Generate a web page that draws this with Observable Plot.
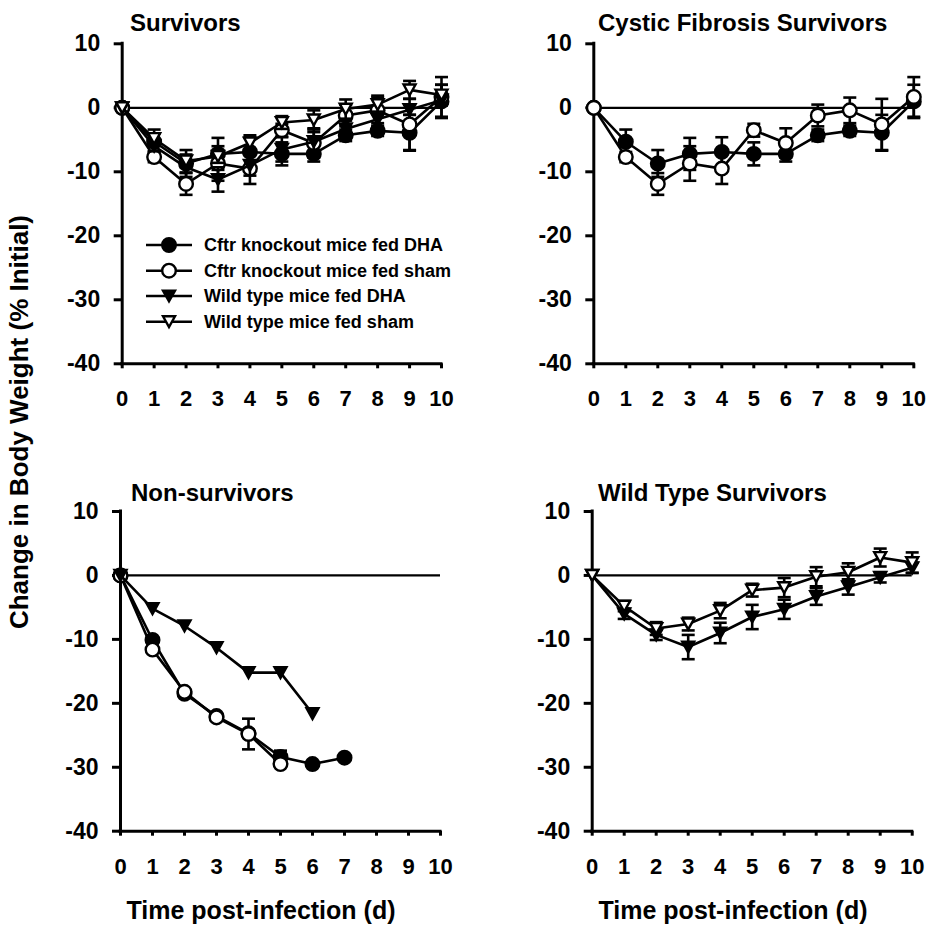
<!DOCTYPE html>
<html><head><meta charset="utf-8">
<script src="https://cdn.jsdelivr.net/npm/d3@7"></script>
<script src="https://cdn.jsdelivr.net/npm/@observablehq/plot@0.6"></script>
<style>
body{margin:0;background:#fff;}
#root{position:relative;width:927px;height:930px;font-family:"Liberation Sans",Arial,sans-serif;font-weight:bold;color:#000;overflow:hidden;background:#fff}
.abs{position:absolute;white-space:nowrap;line-height:1}
</style></head><body><div id="root"></div>
<script>
// ---------- data ----------
const days = [0,1,2,3,4,5,6,7,8,9,10];
const xTicks = [0,1,2,3,4,5,6,7,8,9,10];
const yTicks = [10,0,-10,-20,-30,-40];
const seriesNames = ["Cftr knockout mice fed DHA","Cftr knockout mice fed sham","Wild type mice fed DHA","Wild type mice fed sham"];
const panelTitles = ["Survivors","Cystic Fibrosis Survivors","Non-survivors","Wild Type Survivors"];
const xTitle = "Time post-infection (d)";
const yTitle = "Change in Body Weight (% Initial)";

// survivors
const cfDhaSurv     = [0,-5.3,-8.7,-7.2,-6.9,-7.2,-7.2,-4.3,-3.6,-3.9,1.0];
const cfDhaSurvErr  = [0, 1.9, 2.1, 2.5, 2.3, 1.8, 1.2, 0.9, 0.8, 2.8,2.6];
const cfShamSurv    = [0,-7.7,-11.9,-8.7,-9.5,-3.5,-5.5,-1.2,-0.4,-2.6,1.7];
const cfShamSurvErr = [0, 0.8, 1.7, 2.7, 2.4, 1.0, 2.3, 1.7, 2.0, 4.0,3.1];
const wtDhaSurv     = [0,-6.0,-9.3,-11.2,-9.0,-6.5,-5.3,-3.3,-1.8,-0.3,1.2];
const wtDhaSurvErr  = [0, 0.8, 0.8, 1.9, 1.6, 1.9, 1.5, 1.3, 1.2, 0.8,0.8];
const wtShamSurv    = [0,-4.8,-8.3,-7.6,-5.5,-2.3,-1.9,-0.2,0.5,2.8,2.0];
const wtShamSurvErr = [0, 0.8, 1.0, 1.0, 1.2, 1.0, 1.5, 1.5, 1.4, 1.4,1.6];
// non-survivors
const cfDhaNon      = [0,-10.1,-18.5,-22.0,-24.7,-28.4,-29.5,-28.5];
const cfDhaNonErr   = [0,0,0,0,0,1.0,0,0];
const cfShamNon     = [0,-11.6,-18.2,-22.2,-24.8,-29.5];
const cfShamNonErr  = [0,0,0,0,2.4,0];
const wtDhaNon      = [0,-5.2,-7.9,-11.3,-15.2,-15.2,-21.6];
const wtDhaNonErr   = [0,0,0,0,0,0,0];

// ---------- symbols ----------
const downTri = {draw(ctx, size){ const r = Math.sqrt(size/Math.PI);
  ctx.moveTo(-r,-0.9*r); ctx.lineTo(r,-0.9*r); ctx.lineTo(0,0.9*r); ctx.closePath(); }};
const capSym = {draw(ctx, size){ const r = Math.sqrt(size/Math.PI);
  ctx.moveTo(-r,0); ctx.lineTo(r,0); }};
const styles = [
  {symbol:"circle", r:6.8, fill:"black"},
  {symbol:"circle", r:6.8, fill:"white"},
  {symbol:downTri, r:6.0, fill:"black"},
  {symbol:downTri, r:6.0, fill:"white"}
];
const fmt = d => String(d);

function makePanel(list, o) {
  const marks = [
    Plot.ruleY([0], {stroke:"black", strokeWidth: 2.2}),
    Plot.axisY(yTicks, {tickSize: 8, tickPadding: 14, strokeWidth: 3, label: null, fontSize: 23, tickFormat: fmt}),
    Plot.axisX(xTicks, {tickSize: 5, tickPadding: 22, strokeWidth: 3, label: null, fontSize: 22, tickFormat: fmt}),
    Plot.ruleX([0], {stroke:"black", strokeWidth: 3, strokeLinecap:"square"}),
    Plot.ruleY([-40], {stroke:"black", strokeWidth: 3, strokeLinecap:"square"})
  ];
  for (const s of list) {
    const st = styles[s.k];
    const data = s.vals.map((v,i)=>({day: days[i], v, e: s.errs[i]}));
    const eb = data.filter(d=>d.e>0);
    marks.push(Plot.line(data, {x:"day", y:"v", stroke:"black", strokeWidth:2.6}));
    marks.push(Plot.ruleX(eb, {x:"day", y1: d=>d.v-d.e, y2: d=>d.v+d.e, stroke:"black", strokeWidth:2.6}));
    marks.push(Plot.dot(eb, {x:"day", y: d=>d.v+d.e, symbol: capSym, r: 6.5, stroke:"black", strokeWidth:2.6}));
    marks.push(Plot.dot(eb, {x:"day", y: d=>d.v-d.e, symbol: capSym, r: 6.5, stroke:"black", strokeWidth:2.6}));
    marks.push(Plot.dot(data, {x:"day", y:"v", symbol: st.symbol, r: st.r, fill: st.fill, stroke:"black", strokeWidth:2.4}));
  }
  const svg = Plot.plot({
    width: o.w, height: o.h,
    marginLeft: o.ml, marginRight: o.w - o.x10, marginTop: o.mt, marginBottom: o.h - o.yb,
    x: {domain:[0,10], axis:null},
    y: {domain:[-40,10], axis:null},
    style: {fontFamily:'"Liberation Sans", Arial, sans-serif', fontWeight:"bold", fontSize:"21px", color:"black", background:"transparent", overflow:"visible"},
    marks
  });
  const div = document.createElement("div");
  div.className = "abs";
  div.style.left = o.left + "px"; div.style.top = o.top + "px";
  div.appendChild(svg);
  document.getElementById("root").appendChild(div);
}

// panel layouts (pixel geometry only)
makePanel([
  {k:0, vals:cfDhaSurv, errs:cfDhaSurvErr},
  {k:1, vals:cfShamSurv, errs:cfShamSurvErr},
  {k:2, vals:wtDhaSurv, errs:wtDhaSurvErr},
  {k:3, vals:wtShamSurv, errs:wtShamSurvErr}
], {left:0, top:0, w:470, h:430, ml:121.7, x10:441, mt:43.3, yb:363.3});
makePanel([
  {k:0, vals:cfDhaSurv, errs:cfDhaSurvErr},
  {k:1, vals:cfShamSurv, errs:cfShamSurvErr}
], {left:470, top:0, w:457, h:430, ml:123.3, x10:443.3, mt:43.3, yb:363.3});
makePanel([
  {k:0, vals:cfDhaNon, errs:cfDhaNonErr},
  {k:1, vals:cfShamNon, errs:cfShamNonErr},
  {k:2, vals:wtDhaNon, errs:wtDhaNonErr}
], {left:0, top:440, w:470, h:450, ml:120, x10:440, mt:71, yb:390.7});
makePanel([
  {k:2, vals:wtDhaSurv, errs:wtDhaSurvErr},
  {k:3, vals:wtShamSurv, errs:wtShamSurvErr}
], {left:470, top:440, w:457, h:450, ml:121.7, x10:441.7, mt:71, yb:390.7});

// ---------- text ----------
const root = d3.select("#root");
function addText(txt, left, cy, fs, extra) {
  const d = root.append("div").attr("class","abs").text(txt)
    .style("left", left+"px").style("top", (cy - 0.49*fs)+"px").style("font-size", fs+"px");
  if (extra) extra(d);
  return d;
}
addText(panelTitles[0], 130, 22.8, 24);
addText(panelTitles[1], 598, 22.8, 24);
addText(panelTitles[2], 131, 492.8, 24);
addText(panelTitles[3], 598, 492.8, 24);
// x titles centered
[[261,910],[733,910]].forEach(([cx,cy])=>{
  addText(xTitle, cx, cy, 25, d=>d.style("transform","translateX(-50%)"));
});
// y title rotated
root.append("div").attr("class","abs").text(yTitle)
  .style("left","19px").style("top","422px").style("font-size","26px")
  .style("transform","translate(-50%,-50%) rotate(-90deg)");

// legend
const legY = [245, 270.7, 296, 321.7];
const leg = root.append("svg").attr("class","abs").style("left","140px").style("top","230px")
  .attr("width",64).attr("height",110);
legY.forEach((y,i)=>{
  const yy = y-230, st = styles[i];
  leg.append("line").attr("x1",6).attr("x2",52).attr("y1",yy).attr("y2",yy).attr("stroke","black").attr("stroke-width",2.6);
  const type = st.symbol === "circle" ? d3.symbolCircle : st.symbol;
  leg.append("path").attr("d", d3.symbol().type(type).size(Math.PI*st.r*st.r)())
    .attr("transform",`translate(29,${yy})`).attr("fill",st.fill).attr("stroke","black").attr("stroke-width",2.4);
  addText(seriesNames[i], 204, y, 18);
});
</script></body></html>
